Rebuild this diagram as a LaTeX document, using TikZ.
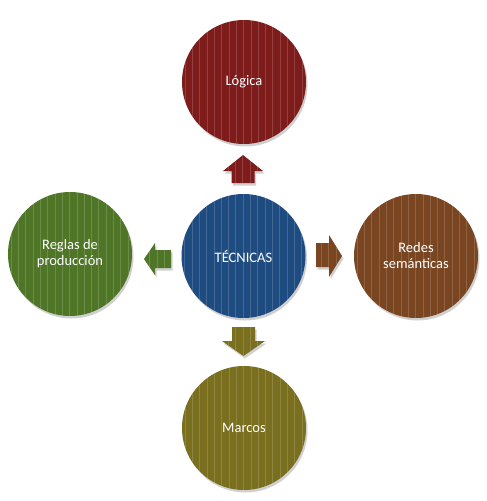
\documentclass[tikz,border=0pt]{standalone}
\usepackage{fontspec}
\setmainfont{Carlito}
\usetikzlibrary{shadows}
\definecolor{cred}{RGB}{126,27,27}
\definecolor{cblue}{RGB}{31,76,128}
\definecolor{cgreen}{RGB}{79,117,38}
\definecolor{cbrown}{RGB}{122,69,33}
\definecolor{colive}{RGB}{122,110,31}
\tikzset{
  stripes/.style={path picture={
    \foreach \s in {-66,-58.7,...,66}
      \draw[white,opacity=.16,line width=1pt]
        ([xshift=\s pt]path picture bounding box.north) --
        ([xshift=\s pt]path picture bounding box.south);}},
  shade3/.style={drop shadow={shadow xshift=1.5pt,shadow yshift=-2.5pt,opacity=.3,fill=black!60}},
  bubble/.style={circle, minimum size=124pt, inner sep=0pt, align=center,
    text=white, font=\fontsize{14.5}{16}\selectfont, shade3, stripes, fill=#1},
  blockarrow/.style={fill=#1, stripes, shade3}
}
\begin{document}
\begin{tikzpicture}[x=1pt,y=-1pt]
\useasboundingbox[fill=white] (0,0) rectangle (487,501);
\node[bubble=cblue]  (c) at (243.5,256) {TÉCNICAS};
\node[bubble=cred]   (t) at (244,82)  {Lógica};
\node[bubble=colive] (b) at (244,428) {Marcos};
\node[bubble=cgreen] (l) at (70,254)  {Reglas de\\producción};
\node[bubble=cbrown] (r) at (416,256) {Redes\\semánticas};
% block arrows
\fill[blockarrow=cred] (243,155) -- (263,171) -- (254.5,171) -- (254.5,183)
  -- (231.5,183) -- (231.5,171) -- (223,171) -- cycle;
\fill[blockarrow=colive] (232,327) -- (255,327) -- (255,341) -- (265,341)
  -- (243.5,356) -- (222,341) -- (232,341) -- cycle;
\fill[blockarrow=cgreen] (144,259) -- (155,243) -- (155,250) -- (171,250)
  -- (171,268) -- (155,268) -- (155,275) -- cycle;
\fill[blockarrow=cbrown] (316,243) -- (329,243) -- (329,235) -- (342,256)
  -- (329,277) -- (329,267) -- (316,267) -- cycle;
\end{tikzpicture}
\end{document}
